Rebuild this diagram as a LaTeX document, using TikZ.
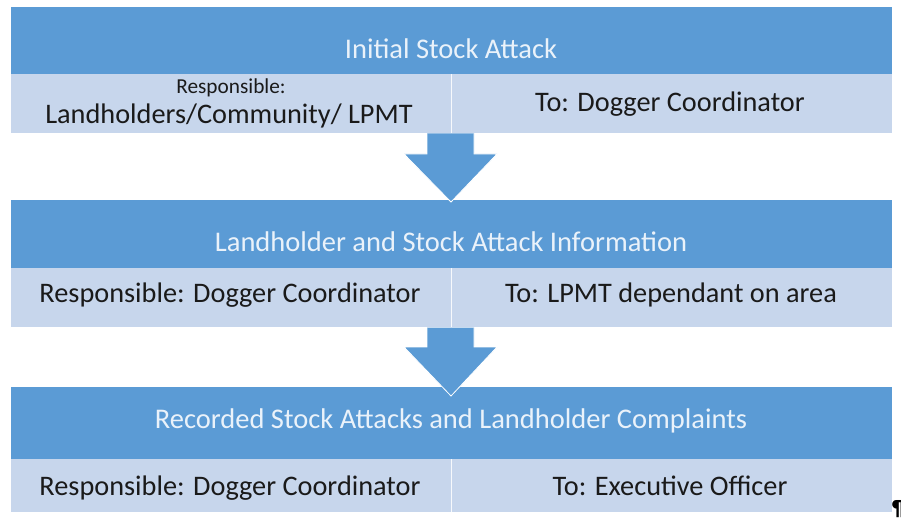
\documentclass[tikz,border=0pt]{standalone}
\usepackage{fontspec}
\setmainfont{Carlito}
\definecolor{darkb}{HTML}{5B9BD5}
\definecolor{lightb}{HTML}{C7D6EC}
\definecolor{titletxt}{HTML}{EAF2FA}
\definecolor{bodytxt}{HTML}{1A1A1A}
\begin{document}
\begin{tikzpicture}[x=1pt,y=-1pt,
  headbar/.style={fill=darkb,draw=none},
  cellbar/.style={fill=lightb,draw=none},
  divider/.style={draw=white!85!lightb,line width=0.8pt},
  titletext/.style={anchor=base,text=titletxt,font=\fontsize{28.5}{32}\selectfont,inner sep=0pt},
  bodytext/.style={anchor=base,text=bodytxt,font=\fontsize{28.3}{32}\selectfont,inner sep=0pt},
  smalltext/.style={anchor=base,text=bodytxt,font=\fontsize{21.3}{24}\selectfont,inner sep=0pt},
  flowarrow/.style={fill=darkb,draw=white,line width=0.8pt,line join=miter}]
\useasboundingbox (0,0) rectangle (901,518);
\fill[white] (0,0) rectangle (901,518);
% box 1
\path[headbar] (11,7) rectangle (892,74);
\path[cellbar] (11,74) rectangle (892,133);
\draw[divider] (451,74) -- (451,133);
% box 2
\path[headbar] (11,200) rectangle (892,268);
\path[cellbar] (11,268) rectangle (892,327);
\draw[divider] (451,268) -- (451,327);
% box 3
\path[headbar] (11,387) rectangle (892,459);
\path[cellbar] (11,459) rectangle (892,512);
\draw[divider] (451,459) -- (451,512);
% arrows
\filldraw[flowarrow] (427,133.5) -- (427,154) -- (404,154) -- (451,202) -- (497,154) -- (474,154) -- (474,133.5);
\filldraw[flowarrow] (427,327.5) -- (427,347) -- (404,347) -- (451,396) -- (497,347) -- (474,347) -- (474,327.5);
% texts
\node[titletext] (t1) at (451,59) {Initial Stock Attack};
\node[smalltext] (r1a) at (231,94) {Responsible:};
\node[bodytext] (r1b) at (229,124) {Landholders/Community/ LPMT};
\node[bodytext] (d1) at (670,112) {To: Dogger Coordinator};
\node[titletext] (t2) at (451,252) {Landholder and Stock Attack Information};
\node[bodytext] (r2) at (230,302) {Responsible: Dogger Coordinator};
\node[bodytext] (d2) at (671,302) {To: LPMT dependant on area};
\node[titletext] (t3) at (451,428) {Recorded Stock Attacks and Landholder Complaints};
\node[bodytext] (r3) at (230,495) {Responsible: Dogger Coordinator};
\node[bodytext] (d3) at (670,495) {To: Executive Officer};
\node[anchor=north west,inner sep=0pt,text=black,font=\fontsize{22}{24}\selectfont\bfseries] (pil) at (892,500) {¶};
\end{tikzpicture}
\end{document}
